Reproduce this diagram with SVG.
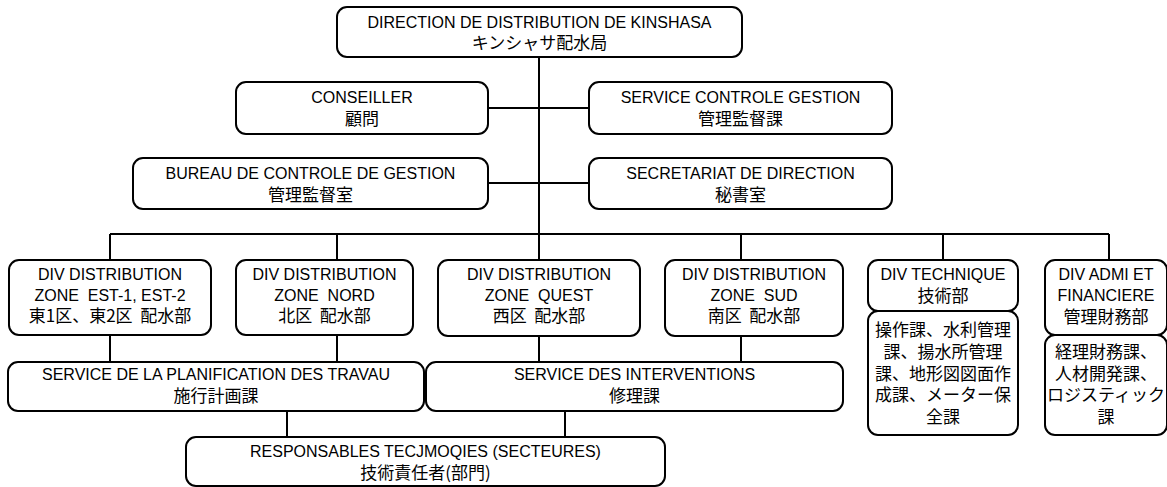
<svg xmlns="http://www.w3.org/2000/svg" width="1167" height="487" viewBox="0 0 1167 487">
  <style>
    .box { fill: #ffffff; stroke: #000000; stroke-width: 2; }
    .wire { fill: none; stroke: #000000; stroke-width: 2; }
    text { fill: #000000; text-anchor: middle; }
    .en { font-family: "Liberation Sans", Arial, "Noto Sans CJK JP", sans-serif; font-size: 16px; }
    .jp { font-family: "Noto Sans CJK JP", "Liberation Sans", sans-serif; font-size: 17px; }
  </style>
  <rect width="1167" height="487" fill="#ffffff"/>

  <!-- connectors -->
  <g id="connectors" class="wire">
    <path d="M539 57 V260"/>
    <path d="M488 108 H589"/>
    <path d="M488 183 H589"/>
    <path d="M110 234 H1109"/>
    <path d="M110 234 V260 M337 234 V260 M741 234 V260 M943 234 V260 M1109 234 V260"/>
    <path d="M110 335 V362 M337 335 V362 M539 335 V362 M741 335 V362"/>
    <path d="M287 411 V437 M565 411 V437"/>
  </g>

  <g id="direction">
    <rect class="box" x="337" y="7" width="405" height="50" rx="10"/>
    <text class="en" x="539.5" y="28">DIRECTION DE DISTRIBUTION DE KINSHASA</text>
    <text class="jp" x="539.5" y="49">キンシャサ配水局</text>
  </g>

  <g id="conseiller">
    <rect class="box" x="236" y="82" width="252" height="52" rx="10"/>
    <text class="en" x="362" y="103">CONSEILLER</text>
    <text class="jp" x="362" y="125">顧問</text>
  </g>

  <g id="service-controle-gestion">
    <rect class="box" x="589" y="82" width="303" height="52" rx="10"/>
    <text class="en" x="740.5" y="103">SERVICE CONTROLE GESTION</text>
    <text class="jp" x="740.5" y="125">管理監督課</text>
  </g>

  <g id="bureau-controle-gestion">
    <rect class="box" x="133" y="158" width="355" height="51" rx="10"/>
    <text class="en" x="310.5" y="179">BUREAU DE CONTROLE DE GESTION</text>
    <text class="jp" x="310.5" y="201">管理監督室</text>
  </g>

  <g id="secretariat">
    <rect class="box" x="589" y="158" width="303" height="51" rx="10"/>
    <text class="en" x="740.5" y="179">SECRETARIAT DE DIRECTION</text>
    <text class="jp" x="740.5" y="201">秘書室</text>
  </g>

  <g id="div-est">
    <rect class="box" x="9" y="260" width="202" height="75" rx="10"/>
    <text class="en" x="110" y="280">DIV DISTRIBUTION</text>
    <text class="en" x="110" y="301">ZONE&#160; EST-1, EST-2</text>
    <text class="jp" x="110" y="322">東1区、東2区&#160; 配水部</text>
  </g>

  <g id="div-nord">
    <rect class="box" x="236" y="260" width="177" height="75" rx="10"/>
    <text class="en" x="324.5" y="280">DIV DISTRIBUTION</text>
    <text class="en" x="324.5" y="301">ZONE&#160; NORD</text>
    <text class="jp" x="324.5" y="322">北区&#160; 配水部</text>
  </g>

  <g id="div-quest">
    <rect class="box" x="438" y="260" width="202" height="76" rx="10"/>
    <text class="en" x="539" y="280">DIV DISTRIBUTION</text>
    <text class="en" x="539" y="301">ZONE&#160; QUEST</text>
    <text class="jp" x="539" y="322">西区&#160; 配水部</text>
  </g>

  <g id="div-sud">
    <rect class="box" x="665" y="260" width="178" height="76" rx="10"/>
    <text class="en" x="754" y="280">DIV DISTRIBUTION</text>
    <text class="en" x="754" y="301">ZONE&#160; SUD</text>
    <text class="jp" x="754" y="322">南区&#160; 配水部</text>
  </g>

  <g id="div-technique">
    <rect class="box" x="868" y="260" width="150" height="51" rx="10"/>
    <text class="en" x="943" y="280">DIV TECHNIQUE</text>
    <text class="jp" x="943" y="302">技術部</text>
  </g>

  <g id="div-technique-services">
    <rect class="box" x="868" y="311" width="150" height="124" rx="10"/>
    <text class="jp" x="943" y="336">操作課、水利管理</text>
    <text class="jp" x="943" y="358">課、揚水所管理</text>
    <text class="jp" x="943" y="380">課、地形図図面作</text>
    <text class="jp" x="943" y="401">成課、メーター保</text>
    <text class="jp" x="943" y="423">全課</text>
  </g>

  <g id="div-admi">
    <rect class="box" x="1045" y="260" width="122" height="75" rx="10"/>
    <text class="en" x="1106" y="280">DIV ADMI ET</text>
    <text class="en" x="1106" y="301">FINANCIERE</text>
    <text class="jp" x="1106" y="323">管理財務部</text>
  </g>

  <g id="div-admi-services">
    <rect class="box" x="1045" y="335" width="122" height="100" rx="10"/>
    <text class="jp" x="1106" y="358">経理財務課、</text>
    <text class="jp" x="1106" y="380">人材開発課、</text>
    <text class="jp" x="1106" y="401">ロジスティック</text>
    <text class="jp" x="1106" y="423">課</text>
  </g>

  <g id="service-planification">
    <rect class="box" x="8" y="362" width="416" height="49" rx="10"/>
    <text class="en" x="216" y="380">SERVICE DE LA PLANIFICATION DES TRAVAU</text>
    <text class="jp" x="216" y="402">施行計画課</text>
  </g>

  <g id="service-interventions">
    <rect class="box" x="426" y="362" width="417" height="49" rx="10"/>
    <text class="en" x="634.5" y="380">SERVICE DES INTERVENTIONS</text>
    <text class="jp" x="634.5" y="402">修理課</text>
  </g>

  <g id="responsables">
    <rect class="box" x="186" y="437" width="479" height="49" rx="10"/>
    <text class="en" x="425.5" y="457">RESPONSABLES TECJMOQIES (SECTEURES)</text>
    <text class="jp" x="425.5" y="479">技術責任者(部門)</text>
  </g>
</svg>
